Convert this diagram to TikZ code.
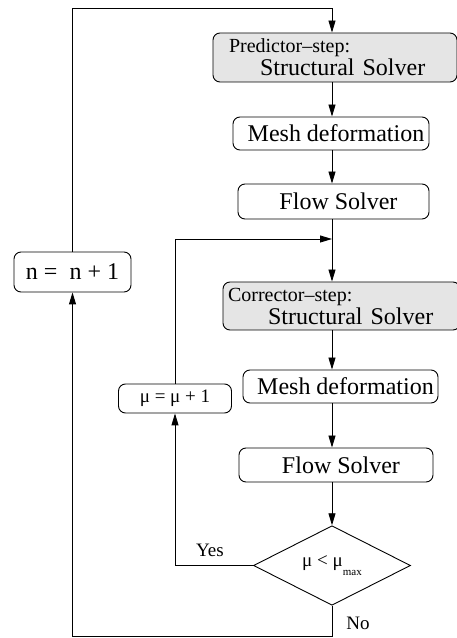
\documentclass[tikz,border=0pt]{standalone}
\usepackage{fontspec}
\setmainfont{Liberation Serif}
\usetikzlibrary{arrows.meta,positioning,shapes.geometric}

\tikzset{
  box/.style={draw, rounded corners=7pt, line width=0.9pt, inner sep=0pt,
    font=\fontsize{24}{28}\selectfont},
  solverbox/.style={box, execute at begin node={\hspace*{10pt}}},
  graybox/.style={box, fill=gray!20, align=left, inner ysep=0pt,
    font=\fontsize{24}{23}\selectfont},
  counterbox/.style={box, font=\fontsize{19}{22}\selectfont},
  decision/.style={draw, diamond, line width=0.9pt, inner sep=0pt,
    minimum width=157pt, minimum height=77pt, font=\fontsize{19}{22}\selectfont},
  flowline/.style={line width=0.9pt},
  flowarrow/.style={flowline, -{Triangle[length=12pt,width=7pt]}},
  answer/.style={font=\fontsize{19}{22}\selectfont, inner sep=0pt}
}
\newcommand{\steplabel}[1]{{\fontsize{20}{23}\selectfont #1}}

\begin{document}
\begin{tikzpicture}[x=1pt,y=1pt]
\useasboundingbox (0,0) rectangle (457,638);

% Predictor loop
\node[graybox, minimum height=49pt, text width=212pt, inner xsep=16pt] (pred) at (335,580.5)
  {\steplabel{Predictor–step:}\\ \hspace*{31pt}Structural Solver};
\node[solverbox, minimum width=196pt, minimum height=33pt] (mesh1) at (331,504.5) {Mesh deformation};
\node[solverbox, minimum width=191pt, minimum height=35pt] (flow1) at (333.5,436.5) {Flow Solver};

% Corrector loop
\node[graybox, minimum height=48pt, text width=227pt, inner xsep=5pt] (corr) at (341.5,332)
  {\steplabel{Corrector–step:}\\ \hspace*{40pt}Structural Solver};
\node[solverbox, minimum width=195pt, minimum height=33pt] (mesh2) at (340.5,251.5) {Mesh deformation};
\node[solverbox, minimum width=194pt, minimum height=34pt] (flow2) at (336,173) {Flow Solver};
\node[decision] (check) at (332,72.5) {μ < μ\raisebox{-9pt}{\fontsize{11}{11}\selectfont max}};

% Counters
\node[counterbox, font=\fontsize{24}{28}\selectfont, minimum width=117pt, minimum height=40pt] (nstep) at (72.5,366) {n =\ \ n + 1};
\node[counterbox, minimum width=113pt, minimum height=29pt] (mustep) at (175,239.5) {μ = μ + 1};

% Junctions
\coordinate (axis) at (332,0);
\coordinate (top) at (332,630);
\coordinate (join) at (332,399);
\coordinate (bottom) at (332,1.5);

% Connectors
\draw[flowarrow] (nstep.north) |- (top) -- (pred.north -| axis);
\draw[flowarrow] (pred.south -| axis) -- (mesh1.north -| axis);
\draw[flowarrow] (mesh1.south -| axis) -- (flow1.north -| axis);
\draw[flowline] (flow1.south -| axis) -- (join);
\draw[flowarrow] (mustep.north) |- (join);
\draw[flowarrow] (join) -- (corr.north -| axis);
\draw[flowarrow] (corr.south -| axis) -- (mesh2.north -| axis);
\draw[flowarrow] (mesh2.south -| axis) -- (flow2.north -| axis);
\draw[flowarrow] (flow2.south -| axis) -- (check.north);
\draw[flowarrow] (check.west) -| (mustep.south);
\draw[flowarrow] (check.south) -- (bottom) -| (nstep.south);

% Branch labels
\node[answer] (yes) at (210,88) {Yes};
\node[answer] (no) at (358,15) {No};
\end{tikzpicture}
\end{document}
